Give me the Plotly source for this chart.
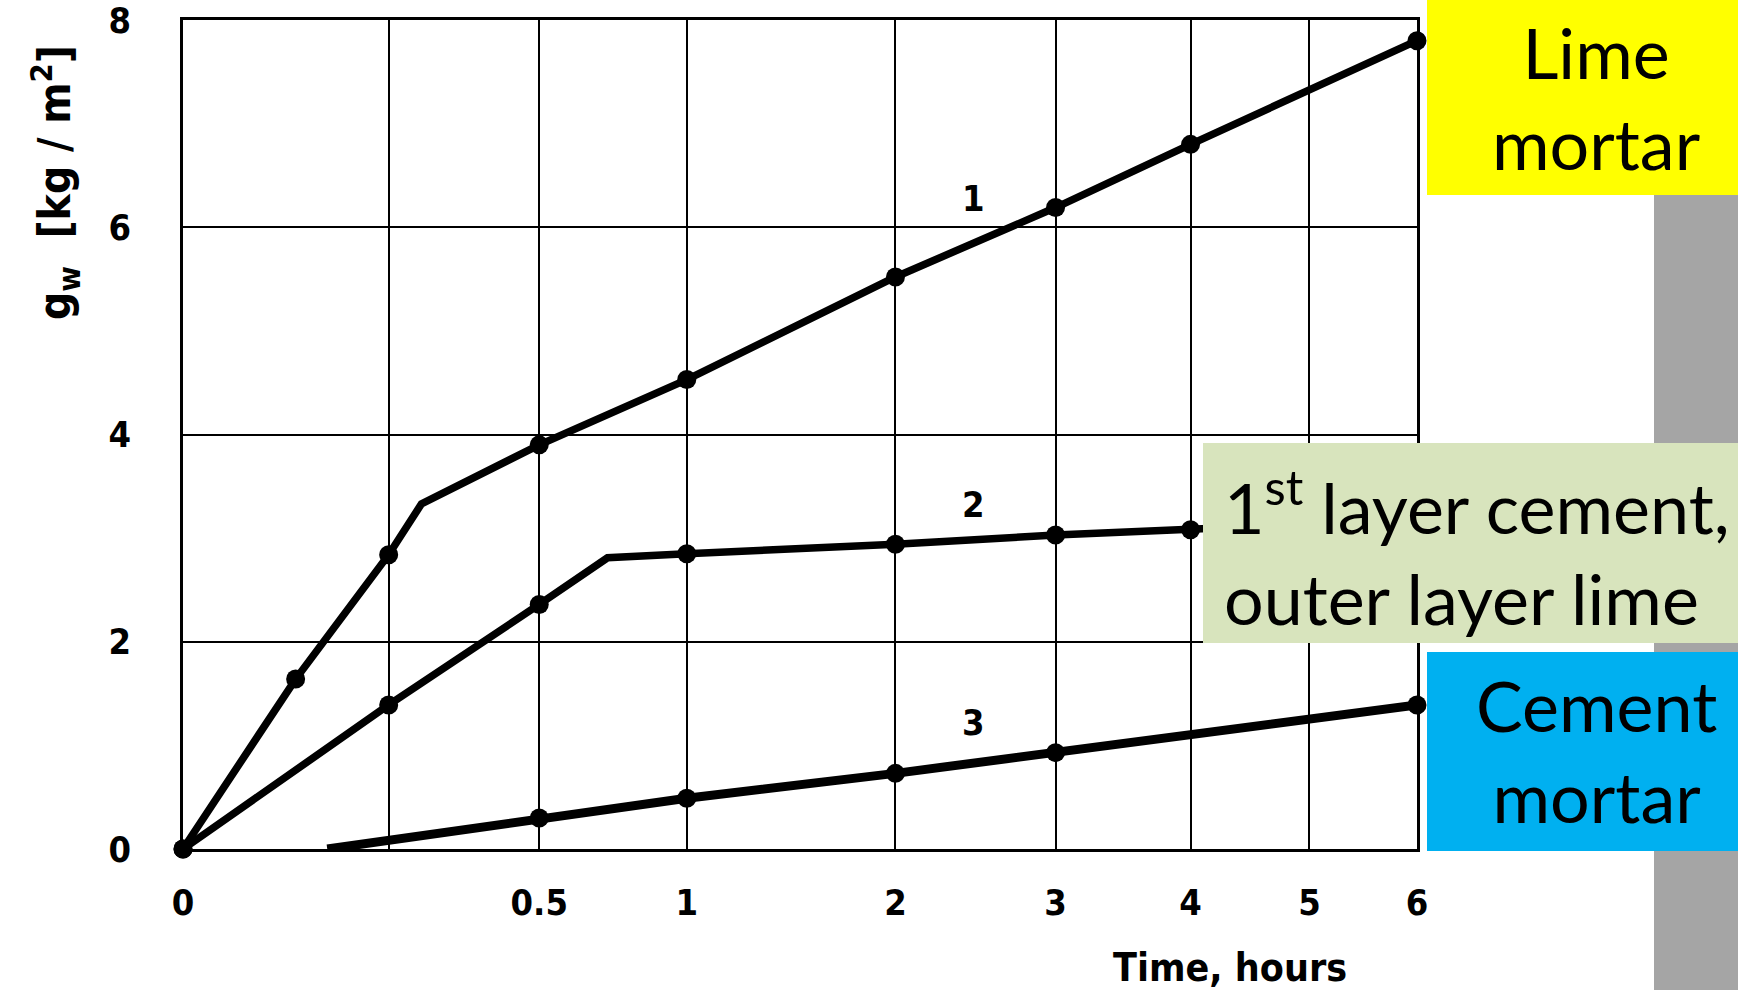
import numpy as np
import plotly.graph_objects as go

# ---------------- data ----------------
# time axis is drawn on a square-root-of-time scale
time_ticks_h = [0, 1/6, 0.5, 1, 2, 3, 4, 5, 6]
time_tick_labels = ["0", "", "0.5", "1", "2", "3", "4", "5", "6"]
g_ticks = [0, 2, 4, 6, 8]
g_tick_labels = ["0", "2", "4", "6", "8"]

# curve 1 : lime mortar
c1_t = [0, 0.05, 1/6, 0.224, 0.5, 1, 2, 3, 4, 6]
c1_g = [0, 1.64, 2.84, 3.33, 3.90, 4.53, 5.52, 6.19, 6.80, 7.80]
c1_marked = [1, 1, 1, 0, 1, 1, 1, 1, 1, 1]

# curve 2 : 1st layer cement, outer layer lime
c2_t = [0, 1/6, 0.5, 0.71, 1, 2, 3, 4, 6]
c2_g = [0, 1.39, 2.36, 2.81, 2.85, 2.94, 3.03, 3.08, 3.18]
c2_marked = [1, 1, 1, 0, 1, 1, 1, 1, 0]

# curve 3 : cement mortar
c3_t = [0.082, 0.5, 1, 2, 3, 6]
c3_g = [0.0, 0.30, 0.49, 0.73, 0.93, 1.39]
c3_marked = [0, 1, 1, 1, 1, 1]

curve_labels = ["1", "2", "3"]
curve_label_t = [2.46, 2.46, 2.46]
curve_label_g = [6.24, 3.29, 1.19]

box_texts = ["Lime<br>mortar",
             "1<sup>st</sup> layer cement,<br>outer layer lime",
             "Cement<br>mortar"]

# ---------------- layout geometry (pixels) ----------------
W, H = 1738, 990
L, R, T, B = 183, 1417, 20, 849


def xp(px):
    return (px - L) / (R - L)


def yp(py):
    return (B - py) / (B - T)


sq = np.sqrt
fig = go.Figure()

MS = 19
for t, g, m, w in [(c1_t, c1_g, c1_marked, 7.5),
                   (c2_t, c2_g, c2_marked, 7.5),
                   (c3_t, c3_g, c3_marked, 9)]:
    xs = sq(np.array(t))
    fig.add_trace(go.Scatter(
        x=xs, y=g, mode="lines",
        line=dict(color="black", width=w),
        cliponaxis=False, showlegend=False, hoverinfo="skip"))
    fig.add_trace(go.Scatter(
        x=[x for x, k in zip(xs, m) if k], y=[v for v, k in zip(g, m) if k],
        mode="markers",
        marker=dict(color="#000000", size=MS, opacity=1, line=dict(width=0)),
        cliponaxis=False, showlegend=False, hoverinfo="skip"))

fig.add_trace(go.Scatter(
    x=sq(np.array(curve_label_t)), y=curve_label_g, mode="text",
    text=curve_labels,
    textfont=dict(family="DejaVu Sans Condensed", size=36, color="black", weight="bold"),
    showlegend=False, hoverinfo="skip"))

tickfont = dict(family="DejaVu Sans Condensed", size=36, color="black", weight="bold")

fig.update_xaxes(
    range=[0, sq(6)], tickvals=sq(np.array(time_ticks_h)), ticktext=time_tick_labels,
    showgrid=True, gridcolor="black", gridwidth=2,
    showline=True, linecolor="black", linewidth=2.5, mirror=True,
    zeroline=False, ticks="", tickfont=tickfont, ticklabelstandoff=20,
    ticklabeloverflow="allow", automargin=False)
fig.update_yaxes(
    range=[0, 8], tickvals=g_ticks, ticktext=g_tick_labels,
    showgrid=True, gridcolor="black", gridwidth=2,
    showline=True, linecolor="black", linewidth=2.5, mirror=True,
    zeroline=False, ticks="", tickfont=tickfont, ticklabelstandoff=42,
    ticklabeloverflow="allow", automargin=False)

shapes = [
    # grey bar
    dict(type="rect", xref="paper", yref="paper", x0=xp(1654), x1=xp(1738),
         y0=yp(990), y1=yp(195), fillcolor="#a5a5a5", line_width=0, layer="above"),
    # yellow
    dict(type="rect", xref="paper", yref="paper", x0=xp(1427), x1=xp(1738),
         y0=yp(195), y1=yp(0), fillcolor="#ffff00", line_width=0, layer="above"),
    # green
    dict(type="rect", xref="paper", yref="paper", x0=xp(1203), x1=xp(1738),
         y0=yp(643), y1=yp(443), fillcolor="#d8e4bd", line_width=0, layer="above"),
    # blue
    dict(type="rect", xref="paper", yref="paper", x0=xp(1427), x1=xp(1738),
         y0=yp(851), y1=yp(652), fillcolor="#00b0f0", line_width=0, layer="above"),
]

boxfont = dict(family="Lato", size=70, color="black")
annotations = [
    dict(xref="paper", yref="paper", x=xp(1596), y=yp(98), text=box_texts[0],
         showarrow=False, font=boxfont, xanchor="center", yanchor="middle", align="center"),
    dict(xref="paper", yref="paper", x=xp(1222), y=yp(548), text=box_texts[1],
         showarrow=False, font=boxfont, xanchor="left", yanchor="middle", align="left"),
    dict(xref="paper", yref="paper", x=xp(1596), y=yp(750), text=box_texts[2],
         showarrow=False, font=boxfont, xanchor="center", yanchor="middle", align="center"),
    # y title
    dict(xref="paper", yref="paper", x=xp(55), y=yp(183),
         text="g<sub>w</sub>  [kg / m<sup>2</sup>]", textangle=-90, showarrow=False,
         font=dict(family="DejaVu Sans Condensed", size=44, color="black", weight="bold"),
         xanchor="center", yanchor="middle"),
    # x title
    dict(xref="paper", yref="paper", x=xp(1230), y=yp(967),
         text="Time, hours", showarrow=False,
         font=dict(family="DejaVu Sans Condensed", size=39, color="black", weight="bold"),
         xanchor="center", yanchor="middle"),
]

fig.update_layout(
    width=W, height=H,
    margin=dict(l=L, r=W - R, t=T, b=H - B, autoexpand=False),
    paper_bgcolor="white", plot_bgcolor="white",
    shapes=shapes, annotations=annotations,
)

fig.write_html("out.html")
